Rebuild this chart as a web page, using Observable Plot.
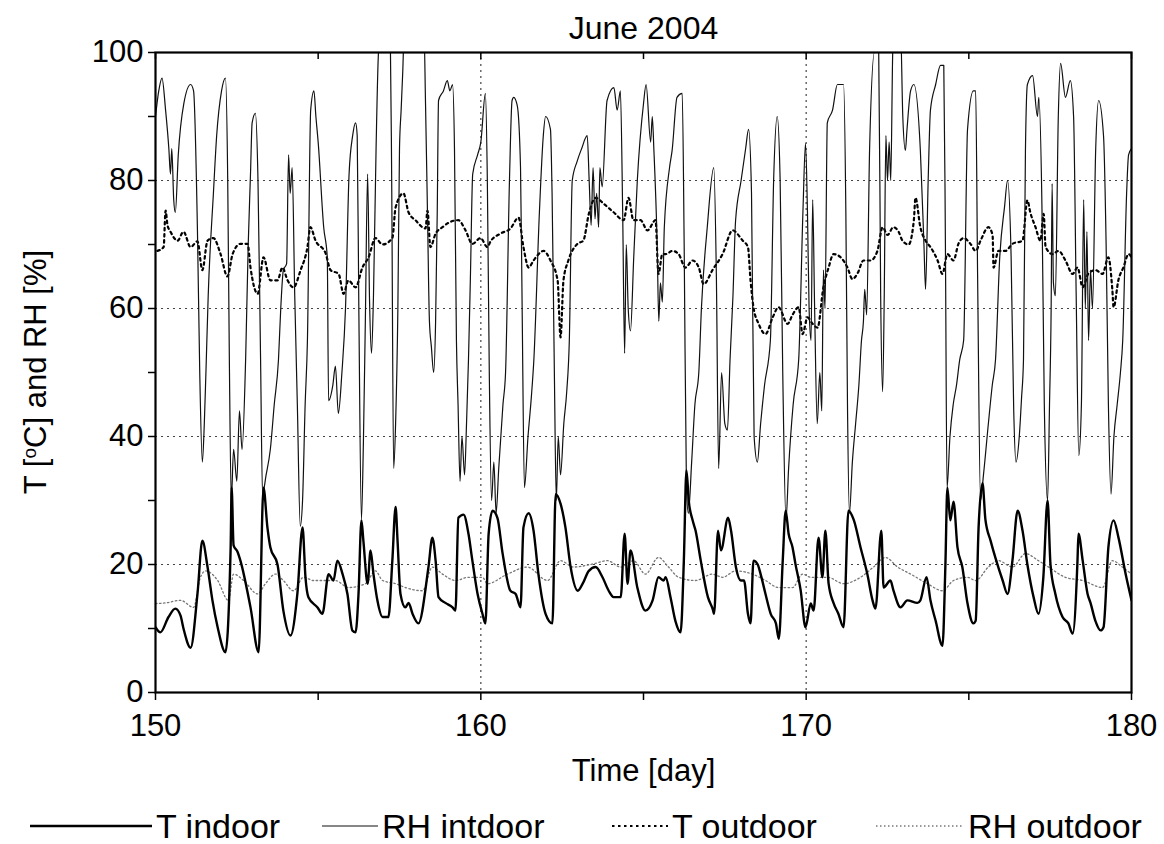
<!DOCTYPE html>
<html>
<head>
<meta charset="utf-8">
<script src="https://cdn.jsdelivr.net/npm/d3@7"></script>
<script src="https://cdn.jsdelivr.net/npm/@observablehq/plot@0.6"></script>
<style>
  html, body { margin: 0; padding: 0; background: #fff; }
  #wrap { position: relative; width: 1164px; height: 844px; font-family: "Liberation Sans", Arial, sans-serif; }
  .leg { position: absolute; top: 806px; height: 40px; display: flex; align-items: center; font-size: 34px; color: #000; white-space: nowrap; }
  .leg svg { display: block; margin-right: 4px; }
</style>
</head>
<body>
<div id="wrap"></div>
<script>
const title = "June 2004";
const xLabel = "Time [day]";
const xTicks = [150, 155, 160, 165, 170, 175, 180];
const yTicks = [0, 10, 20, 30, 40, 50, 60, 70, 80, 90, 100];
const seriesNames = ["T indoor", "RH intdoor", "T outdoor", "RH outdoor"];

// [day, value]
const tIndoor = [
[150.00,10.2],[150.15,9.4],[150.40,11.8],[150.61,13.1],[150.77,12.0],[150.86,10.0],[151.08,7.0],[151.29,15.4],[151.44,23.7],[151.60,19.6],[151.75,14.4],[151.91,10.2],
[152.15,6.3],[152.31,22.7],[152.34,32],[152.40,23],[152.52,22],[152.61,20.6],[152.92,13.3],[153.17,6.3],[153.32,32],[153.44,25.8],[153.53,22.7],[153.75,20],[153.93,12.8],
[154.15,8.9],[154.36,15.4],[154.52,25.8],[154.61,18],[154.70,14.9],[154.98,13.3],[155.13,12.3],[155.32,18.5],[155.47,17.5],[155.59,20.6],[155.75,18.5],[155.90,15.4],
[156.05,9.7],[156.15,9.4],[156.24,15.4],[156.33,26.9],[156.39,23.7],[156.52,17],[156.61,22.2],[156.70,18.5],[156.82,14.4],[156.98,11.8],[157.16,11.8],[157.28,20.6],
[157.38,29],[157.44,23.7],[157.53,15.4],[157.68,13.3],[157.78,14],[157.90,12.3],[158.08,10.8],[158.39,19.6],[158.51,24.2],[158.61,20.6],[158.70,14.9],[158.91,14],
[159.13,13.3],[159.22,12.8],[159.31,27.3],[159.47,27.8],[159.62,24.8],[159.74,20.6],[159.90,15.4],[160.05,12.3],[160.14,10.8],[160.24,24.8],[160.36,28.4],[160.51,27.3],
[160.67,21.7],[160.91,15.9],[161.07,15.4],[161.22,13.3],[161.31,25.8],[161.47,28],[161.62,25.3],[161.77,18.5],[161.99,12.3],[162.20,10.8],[162.30,31],[162.45,29.5],
[162.60,25.8],[162.76,19.6],[162.98,15.9],[163.13,17],[163.32,19],[163.53,19.6],[163.74,18],[163.93,15.9],[164.08,14.9],[164.30,14.9],[164.42,24.8],[164.51,17],
[164.60,22.2],[164.81,16.4],[165.06,12.8],[165.28,14.4],[165.46,18],[165.62,17.5],[165.68,18],[165.83,14.9],[165.98,11.2],[166.14,9.4],[166.24,20.6],[166.32,34.7],
[166.39,30],[166.51,26.9],[166.60,25.3],[166.76,20.6],[166.98,14.9],[167.13,13],[167.17,12.3],[167.29,25.3],[167.38,22.2],[167.60,27.3],[167.69,25.3],[167.84,19.6],
[167.99,17.5],[168.09,17.5],[168.21,12.3],[168.29,10.8],[168.38,20.6],[168.51,20],[168.60,18.5],[168.75,15.4],[168.91,12.3],[169.07,10.8],[169.16,8.4],[169.28,20.6],
[169.37,28.4],[169.46,24.8],[169.58,22.7],[169.67,20.1],[169.83,16],[169.98,10.2],[170.14,13.9],[170.23,12.8],[170.38,24.2],[170.50,18],[170.59,25.3],[170.69,17],
[170.84,14],[170.99,12.3],[171.15,10.2],[171.30,28.4],[171.46,27],[171.67,22.7],[171.88,18.5],[172.04,14.4],[172.13,13.1],[172.31,25.3],[172.38,16.4],[172.59,17.5],
[172.68,16],[172.90,13.3],[173.11,14.4],[173.42,14],[173.51,14.4],[173.70,18],[173.82,14.4],[173.98,11.2],[174.19,7.3],[174.28,20],[174.34,32],[174.43,26.9],
[174.53,29.8],[174.65,22.7],[174.80,19.6],[174.96,13.9],[175.14,10.8],[175.21,11.2],[175.30,25.8],[175.42,32.7],[175.51,27],[175.67,23.7],[175.82,21],[176.04,17.5],
[176.19,15.4],[176.34,20.6],[176.50,28.4],[176.65,25.3],[176.80,20],[176.99,14.9],[177.14,12.3],[177.29,18],[177.42,30],[177.51,20],[177.66,15.4],[177.88,11.8],
[178.06,10.8],[178.19,9.2],[178.34,20.6],[178.37,24.8],[178.50,20.6],[178.65,15.4],[178.74,14],[178.89,11.2],[179.05,9.7],[179.14,10.2],[179.29,22.7],[179.45,26.9],
[179.60,24.2],[179.82,18.5],[180.00,14.4]
];

const rhIndoor = [
[150.00,90],[150.10,94],[150.20,96],[150.31,91],[150.41,85],[150.46,81],[150.50,85],[150.56,77],[150.61,75],[150.70,84],[150.87,92],[151.08,95],[151.17,94],
[151.29,72],[151.36,50],[151.44,36],[151.50,42],[151.55,50],[151.62,62],[151.78,78],[151.88,87],[152.03,94],[152.15,96],[152.22,80],[152.27,52],[152.33,30],
[152.40,38],[152.50,33],[152.58,44],[152.66,38],[152.77,52],[152.85,70],[152.92,81],[152.97,89],[153.07,90.5],[153.15,80],[153.23,52],[153.29,31],[153.40,34],
[153.53,38],[153.65,45],[153.78,52],[153.85,60],[153.93,66],[154.03,67],[154.09,84],[154.14,78],[154.20,82],[154.28,62],[154.36,45],[154.45,26],[154.52,30],
[154.60,45],[154.67,55],[154.77,91],[154.87,94],[154.93,90],[155.00,86],[155.17,72.7],[155.28,68],[155.32,45.6],[155.45,48],[155.53,51],[155.62,43.6],[155.73,50],
[155.84,60],[155.95,81],[156.06,87],[156.15,89],[156.20,87],[156.25,60],[156.33,27],[156.39,39],[156.45,58],[156.52,81],[156.58,61],[156.64,53],[156.70,62],
[156.78,85],[156.86,100.5],[157.00,104],[157.22,101],[157.26,80],[157.32,35],[157.38,42],[157.45,60],[157.50,85],[157.55,91],[157.60,97],[157.65,104],[158.25,104],
[158.30,92],[158.36,75],[158.42,58],[158.48,54],[158.55,50],[158.61,58],[158.66,75],[158.70,92.5],[158.85,94],[158.97,95.6],[159.05,94],[159.13,95],[159.19,85],
[159.25,55],[159.30,45],[159.36,33],[159.42,40],[159.50,34],[159.56,42],[159.62,52],[159.68,65],[159.75,81],[159.90,84],[160.00,86],[160.14,93.6],[160.20,80],
[160.26,50],[160.33,30],[160.40,36],[160.47,28],[160.55,35],[160.68,45],[160.76,50],[160.88,80],[160.96,92.5],[161.01,93],[161.12,91.7],[161.22,82],[161.27,60],
[161.34,32],[161.45,40],[161.55,46],[161.63,52],[161.80,75],[161.92,87],[161.99,90],[162.14,88],[162.19,78],[162.26,50],[162.32,30],[162.38,40],[162.45,34],
[162.55,42],[162.64,47],[162.72,55],[162.81,80],[162.96,83],[163.10,85],[163.27,87],[163.33,80],[163.39,73],[163.45,82],[163.51,74],[163.56,78],[163.62,72.7],
[163.66,82],[163.73,79],[163.88,92.5],[164.09,94.5],[164.19,91],[164.29,94],[164.36,75],[164.42,53],[164.47,70],[164.53,60],[164.60,56.5],[164.70,68],[164.81,80],
[165.00,92],[165.08,95],[165.22,86],[165.27,90],[165.32,84.7],[165.42,70],[165.47,58],[165.52,64],[165.58,61],[165.64,72.7],[165.80,82],[165.88,84.7],[166.03,93],
[166.19,93.6],[166.25,70],[166.32,32],[166.38,28],[166.48,36],[166.58,45],[166.70,50],[166.78,60],[166.96,72.7],[167.16,82],[167.24,65],[167.31,35],[167.40,50],
[167.50,42],[167.58,41],[167.66,52],[167.75,62],[167.83,73.7],[168.00,80],[168.14,85],[168.23,88],[168.32,78],[168.40,40],[168.50,36],[168.60,42],[168.72,48],
[168.90,55],[169.00,80],[169.11,90],[169.20,80],[169.28,50],[169.38,27],[169.46,35],[169.60,45],[169.77,52],[169.90,75],[169.98,85.8],[170.04,75],[170.09,60],
[170.15,55],[170.20,77],[170.26,60],[170.34,42],[170.42,50],[170.48,44],[170.53,66],[170.58,60],[170.65,89],[170.81,91],[170.96,95],[171.15,95],[171.22,75],
[171.27,45],[171.33,28],[171.42,36],[171.52,42],[171.62,48],[171.70,55],[171.76,58],[171.80,63],[171.86,59],[171.95,85],[172.10,100],[172.23,100],[172.29,62],
[172.35,47],[172.40,62],[172.45,87],[172.50,80],[172.55,86],[172.60,80],[172.66,100],[172.70,104],[172.90,104],[172.97,90],[173.05,84.7],[173.10,88],
[173.21,94],[173.31,95],[173.51,84.7],[173.62,70],[173.67,63],[173.75,80],[173.82,91],[173.98,95],[174.13,98],[174.23,98],[174.28,70],[174.33,32],[174.42,40],
[174.52,45],[174.62,48],[174.72,52],[174.84,55],[174.96,88],[175.14,94],[175.21,94],[175.27,65],[175.36,30],[175.45,34],[175.60,42],[175.72,48],[175.82,52],
[175.95,68],[176.10,76],[176.19,80],[176.30,68],[176.38,44],[176.45,36],[176.55,40],[176.62,46],[176.68,52],[176.74,84.7],[176.80,95],[176.96,96.4],[177.11,90],
[177.15,93],[177.25,75],[177.32,45],[177.42,30],[177.48,45],[177.53,60],[177.56,79.5],[177.60,64],[177.66,62],[177.75,90],[177.82,98.3],[177.97,93],[178.12,95.6],
[178.22,90],[178.30,62],[178.38,37],[178.46,45],[178.53,77],[178.58,60],[178.63,72],[178.68,55],[178.74,66],[178.80,60],[178.90,85],[178.99,92.5],[179.14,87],
[179.22,70],[179.29,45],[179.37,31],[179.46,40],[179.56,45],[179.66,50],[179.73,55],[179.85,78],[179.91,84],[180.00,85]
];

const tOutdoor = [
[150.06,69],[150.25,69.6],[150.31,75.3],[150.37,73],[150.46,72],[150.68,70.6],[150.86,72],[151.08,69.6],[151.29,70.5],[151.44,66],[151.60,70.6],[151.78,71],
[152.00,68.5],[152.21,65],[152.37,68.5],[152.61,70.1],[152.83,70.1],[152.92,66.4],[153.14,62.3],[153.32,68],[153.53,64.4],[153.75,64.4],[153.90,66.4],[154.06,64.4],
[154.24,63.3],[154.46,66],[154.67,69.6],[154.76,72.7],[154.92,70.6],[155.23,68.6],[155.38,66],[155.63,65.4],[155.78,62.3],[155.93,64.4],[156.15,63.3],[156.36,66.4],
[156.55,68],[156.76,71],[156.98,70],[157.28,71],[157.38,75.8],[157.62,78],[157.78,75],[157.99,73.8],[158.30,72.5],[158.36,75.3],[158.45,69.6],[158.61,71.7],
[158.82,72.7],[159.01,73.4],[159.31,73.8],[159.53,72.2],[159.74,70.1],[159.99,71],[160.20,69.6],[160.30,70.5],[160.60,71.7],[160.91,72.5],[161.16,74.2],[161.31,69.6],
[161.47,66.4],[161.62,67.5],[161.93,69],[162.14,67.5],[162.36,64.4],[162.45,55.5],[162.54,64.4],[162.69,67.5],[162.97,70.1],[163.15,70.6],[163.32,74.8],[163.53,77.3],
[163.77,76.4],[164.09,75],[164.39,73.8],[164.54,77.3],[164.69,73.8],[164.91,73.8],[165.12,72.2],[165.37,73.8],[165.46,65.4],[165.58,68.5],[165.68,68.5],[165.89,69],
[166.08,68.5],[166.29,66.4],[166.51,67.5],[166.70,66.4],[166.85,63.8],[167.12,66],[167.43,68.5],[167.74,72.2],[168.05,70.6],[168.21,69.6],[168.29,64.4],[168.38,60.2],
[168.54,57.6],[168.75,56],[168.97,58.6],[169.15,60.2],[169.43,57.6],[169.58,59],[169.77,60.2],[169.89,56],[170.04,58.6],[170.20,57.6],[170.35,57],[170.53,63.3],
[170.69,66.4],[170.84,68.5],[171.06,68],[171.27,66.4],[171.42,64.6],[171.58,65.5],[171.76,67.5],[171.98,67.5],[172.19,69],[172.35,72.7],[172.50,71.5],[172.68,72.7],
[172.84,72],[172.96,70.6],[173.15,70],[173.31,73.8],[173.36,77.3],[173.51,72.7],[173.67,70.6],[173.82,69.6],[174.04,67.5],[174.19,65.4],[174.34,68.5],[174.53,67.5],
[174.68,70.1],[174.84,71],[175.05,70.1],[175.21,69],[175.36,70.6],[175.60,72.7],[175.73,71.5],[175.76,66.4],[175.91,69],[176.13,69],[176.34,70.1],[176.65,70.6],
[176.80,76.9],[176.89,75],[177.05,72.7],[177.20,70.6],[177.30,74.8],[177.36,69.6],[177.57,68.5],[177.76,69],[177.97,67.5],[178.19,65.4],[178.34,66.4],[178.50,63.3],
[178.68,65.5],[178.89,66],[179.11,65.4],[179.29,68],[179.41,63],[179.45,60.2],[179.60,64.5],[179.75,66.4],[179.91,68.5],[180.00,68]
];

const rhOutdoor = [
[150.00,13.9],[150.31,14],[150.77,14.4],[151.17,13.3],[151.38,18],[151.54,19],[151.91,17.5],[152.24,14.4],[152.40,18.5],[152.71,17.5],[153.14,15.4],[153.38,17],
[153.69,18.5],[153.93,17.5],[154.24,15.9],[154.55,18],[154.86,17.5],[155.53,17.5],[155.93,16.4],[156.45,17],[156.76,19],[156.98,17.5],[157.38,17],[157.68,16.4],
[158.21,15.9],[158.51,19.6],[158.82,18.5],[159.22,17.5],[159.62,18],[160.05,18],[160.20,17],[160.82,18.5],[161.43,19.6],[162.05,17.5],[162.45,20.6],[162.85,19.6],
[163.46,20.1],[163.89,20.6],[164.30,19.6],[164.69,20.6],[165.06,18.5],[165.46,21.1],[165.77,19.6],[166.08,18],[166.60,17.5],[167.12,18.5],[167.43,18],[167.83,19],
[168.35,18.5],[168.75,17.5],[169.15,16.4],[169.58,16.4],[169.89,18.5],[170.14,18],[170.66,18],[171.15,17],[171.67,18],[172.07,19.6],[172.44,21.1],[172.81,19.6],
[173.21,18.5],[173.73,17],[174.19,15.9],[174.53,17.5],[174.96,18],[175.21,17.5],[175.60,19.6],[175.91,20.6],[176.34,19.6],[176.74,21.7],[177.14,20.6],[177.45,19.6],
[177.97,18],[178.50,17.5],[179.11,16.4],[179.41,20.6],[179.72,19.6],[180.00,18.5]
];

const styles = {
  "T indoor":   {stroke: "#000", strokeWidth: 2.4, dash: null},
  "RH intdoor": {stroke: "#111", strokeWidth: 1.2, dash: null},
  "T outdoor":  {stroke: "#000", strokeWidth: 2.2, dash: "2.5,3.5"},
  "RH outdoor": {stroke: "#777", strokeWidth: 1.3, dash: "1.5,2.5"}
};
const toRows = (arr) => arr.map(([d, v]) => ({day: d, value: v}));
const seriesData = {
  "T indoor": toRows(tIndoor),
  "RH intdoor": toRows(rhIndoor),
  "T outdoor": toRows(tOutdoor),
  "RH outdoor": toRows(rhOutdoor)
};

const lineMark = (name) => Plot.line(seriesData[name], {
  x: "day", y: "value", stroke: styles[name].stroke, strokeWidth: styles[name].strokeWidth,
  strokeDasharray: styles[name].dash, clip: true, strokeLinejoin: "round", curve: "monotone-x"
});

const chart = Plot.plot({
  width: 1164, height: 795,
  marginLeft: 155, marginRight: 33, marginTop: 52, marginBottom: 103,
  style: {fontFamily: "'Liberation Sans', Arial, sans-serif", fontSize: "32px", color: "#000", background: "#fff", overflow: "visible"},
  x: {domain: [150, 180]},
  y: {domain: [0, 100]},
  marks: [
    Plot.gridY([20, 40, 60, 80], {stroke: "#444", strokeOpacity: 1, strokeWidth: 1.2, strokeDasharray: "2,4"}),
    Plot.gridX([160, 170], {stroke: "#444", strokeOpacity: 1, strokeWidth: 1.2, strokeDasharray: "2,4"}),
    lineMark("RH outdoor"),
    lineMark("T outdoor"),
    lineMark("RH intdoor"),
    lineMark("T indoor"),
    Plot.ruleX(xTicks, {y1: 100, y2: 98.9, stroke: "#000", strokeWidth: 1.5}),
    Plot.axisX({ticks: xTicks, tickFormat: d => d % 10 === 0 ? d : "", tickSize: 8, tickPadding: 13, strokeWidth: 1.5,
      label: xLabel, labelAnchor: "center", labelArrow: "none", labelOffset: 88, fontSize: 31}),
    Plot.axisY({ticks: yTicks, tickFormat: d => d % 20 === 0 ? d : "", tickSize: 7, tickPadding: 5, strokeWidth: 1.5,
      label: null, fontSize: 31}),
    Plot.frame({stroke: "#000", strokeWidth: 2.2}),
    Plot.text([title], {frameAnchor: "top", dy: -36, fontSize: 32, fill: "#000"})
  ]
});

const wrap = document.getElementById("wrap");
wrap.appendChild(chart);

// y-axis title with superscript
const svg = d3.select(chart);
const yt = svg.append("text")
  .attr("transform", "translate(46,372) rotate(-90)")
  .attr("text-anchor", "middle")
  .attr("font-size", 31)
  .attr("fill", "#000");
yt.append("tspan").text("T [");
yt.append("tspan").attr("baseline-shift", "super").attr("font-size", 19).text("o");
yt.append("tspan").text("C] and RH [%]");

// legend
const legendPos = [
  {name: "T indoor", left: 30, len: 122},
  {name: "RH intdoor", left: 322, len: 56},
  {name: "T outdoor", left: 612, len: 56},
  {name: "RH outdoor", left: 876, len: 88}
];
legendPos.forEach(p => {
  const st = styles[p.name];
  const item = document.createElement("div");
  item.className = "leg";
  item.style.left = p.left + "px";
  const s = d3.create("svg").attr("width", p.len).attr("height", 10);
  s.append("line").attr("x1", 0).attr("x2", p.len).attr("y1", 5).attr("y2", 5)
    .attr("stroke", st.stroke).attr("stroke-width", st.strokeWidth)
    .attr("stroke-dasharray", st.dash);
  item.appendChild(s.node());
  const t = document.createElement("span");
  t.textContent = p.name;
  item.appendChild(t);
  wrap.appendChild(item);
});
</script>
</body>
</html>
